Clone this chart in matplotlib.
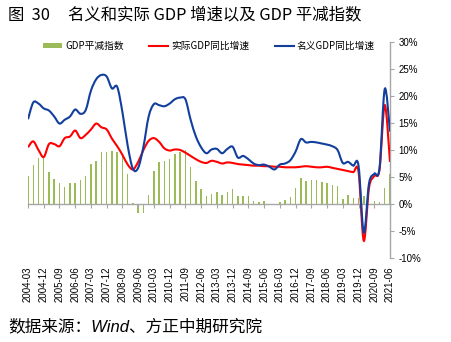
import numpy as np
import matplotlib
matplotlib.use('Agg')
import matplotlib.pyplot as plt
from matplotlib.path import Path
from matplotlib.patches import PathPatch, Patch
from matplotlib.lines import Line2D

plt.rcParams['font.family'] = ['Noto Sans CJK SC', 'DejaVu Sans']

quarters = [f"{y}-{m:02d}" for y in range(2004, 2022) for m in (3, 6, 9, 12)][:70]

nominal = [15.7, 18.8, 18.6, 17.7, 17.3, 16.2, 14.9, 15.6, 16.2, 17.5,
           16.7, 17.4, 21.0, 23.1, 23.9, 23.6, 21.4, 21.7, 17.0, 10.8,
           6.5, 6.7, 10.6, 16.2, 18.5, 18.3, 18.1, 18.6, 19.4, 19.7,
           19.4, 15.6, 12.5, 10.5, 9.4, 10.1, 10.2, 9.4, 10.2, 10.6,
           8.6, 8.9, 8.3, 7.5, 7.2, 7.3, 6.9, 6.4, 7.3, 7.5,
           8.1, 9.7, 12.0, 11.4, 11.5, 11.4, 11.2, 11.0, 10.7, 10.0,
           7.6, 7.8, 7.1, 7.1, -5.3, 3.8, 5.6, 6.6, 21.3, 13.4]

real = [10.5, 11.6, 10.0, 8.7, 11.1, 11.1, 10.7, 12.2, 12.5, 13.6,
        12.2, 12.8, 13.8, 14.9, 14.2, 13.8, 12.1, 10.7, 9.1, 7.3,
        6.4, 7.8, 10.0, 11.7, 12.2, 11.5, 10.3, 9.9, 10.1, 10.0,
        9.5, 8.9, 8.3, 7.8, 7.6, 8.0, 7.8, 7.5, 7.7, 7.6,
        7.4, 7.3, 7.2, 7.1, 7.1, 7.0, 7.0, 6.9, 6.9, 6.8,
        6.8, 6.8, 6.9, 7.0, 6.9, 6.8, 6.8, 6.9, 6.7, 6.5,
        6.3, 6.1, 5.9, 6.0, -6.8, 3.0, 5.2, 6.4, 18.3, 7.8]

deflator = [5.2, 7.3, 8.6, 8.5, 6.0, 4.7, 3.9, 3.2, 3.8, 3.8,
            4.4, 5.2, 7.5, 8.0, 9.7, 9.7, 9.9, 9.7, 8.8, 5.6,
            0.1, -1.6, -1.6, 1.7, 6.2, 7.7, 8.0, 8.3, 9.3, 9.7,
            10.0, 6.8, 4.2, 2.7, 1.5, 1.8, 2.3, 1.7, 2.2, 2.8,
            1.4, 1.4, 1.5, 0.6, 0.3, 0.6, -0.2, -0.2, 0.4, 0.7,
            1.3, 2.9, 4.9, 4.2, 4.4, 4.4, 4.1, 3.8, 3.5, 3.4,
            1.0, 1.6, 1.1, 1.1, 1.5, -0.2, 0.6, 0.4, 2.9, 5.6]

tick_labels = ['2004-03', '2004-12', '2005-09', '2006-06', '2007-03', '2007-12',
               '2008-09', '2009-06', '2010-03', '2010-12', '2011-09', '2012-06',
               '2013-03', '2013-12', '2014-09', '2015-06', '2016-03', '2016-12',
               '2017-09', '2018-06', '2019-03', '2019-12', '2020-09', '2021-06']

y_ticks = [-10, -5, 0, 5, 10, 15, 20, 25, 30]

GREEN = '#9BBB59'
RED = '#FF0000'
BLUE = '#123F9E'
GRAY = '#A6A6A6'


def smooth_path(xs, ys):
    pts = np.column_stack([xs, ys]).astype(float)
    n = len(pts)
    verts = [pts[0]]
    codes = [Path.MOVETO]
    for i in range(n - 1):
        p0 = pts[i - 1] if i > 0 else pts[i]
        p1 = pts[i]
        p2 = pts[i + 1]
        p3 = pts[i + 2] if i + 2 < n else pts[i + 1]
        c1 = p1 + (p2 - p0) / 6.0
        c2 = p2 - (p3 - p1) / 6.0
        verts += [c1, c2, p2]
        codes += [Path.CURVE4] * 3
    return Path(verts, codes)


fig = plt.figure(figsize=(4.51, 3.42), dpi=100)
ax = fig.add_axes([28 / 451, 1 - 258 / 342, (390 - 28) / 451, (258 - 42) / 342])

x = np.arange(len(quarters))
ax.bar(x, deflator, width=0.28, color=GREEN, zorder=1)
ax.add_patch(PathPatch(smooth_path(x, real), fill=False, edgecolor=RED, lw=1.5, zorder=3))
ax.add_patch(PathPatch(smooth_path(x, nominal), fill=False, edgecolor=BLUE, lw=1.5, zorder=4))

ax.set_xlim(0, len(quarters) - 1)
ax.set_ylim(-10, 30)

for s in ('left', 'top'):
    ax.spines[s].set_visible(False)
ax.spines['right'].set_color(GRAY)
ax.spines['right'].set_linewidth(1.0)
ax.spines['bottom'].set_position(('data', 0))
ax.spines['bottom'].set_color(GRAY)
ax.spines['bottom'].set_linewidth(1.0)

ax.yaxis.tick_right()
ax.set_yticks(y_ticks)
ax.set_yticklabels([f"{v}%" for v in y_ticks], fontsize=7, family='Liberation Sans')
ax.tick_params(axis='y', direction='out', length=3, color=GRAY, pad=3)

tick_pos = [quarters.index(t) for t in tick_labels]
ax.set_xticks(tick_pos)
ax.tick_params(axis='x', direction='out', length=3, color=GRAY, labelbottom=False)

sec = ax.secondary_xaxis('bottom')
sec.set_xticks(tick_pos)
sec.set_xticklabels(tick_labels, rotation=90, fontsize=7, family='Liberation Sans')
sec.tick_params(length=0, pad=6)
sec.spines['bottom'].set_visible(False)

handles = [Patch(facecolor=GREEN, edgecolor='none'),
           Line2D([], [], color=RED, lw=1.5),
           Line2D([], [], color=BLUE, lw=1.5)]
labels = ['GDP平减指数', '实际GDP同比增速', '名义GDP同比增速']
fig.legend(handles, labels, loc='center', bbox_to_anchor=(0.463, 1 - 46 / 342),
           ncol=3, frameon=False, fontsize=7, handlelength=2.0, handleheight=0.5,
           columnspacing=2.6, handletextpad=0.3)

fig.text(8 / 451, 1 - 15 / 342, '图  30     名义和实际 GDP 增速以及 GDP 平减指数',
         fontsize=11.8, va='center', ha='left')
fig.text(8 / 451, 1 - 326 / 342, '数据来源：Wind、方正中期研究院',
         fontsize=12, va='center', ha='left', style='italic',
         family=['Liberation Sans', 'Noto Sans CJK SC'])

fig.savefig('out.png', dpi=100)
